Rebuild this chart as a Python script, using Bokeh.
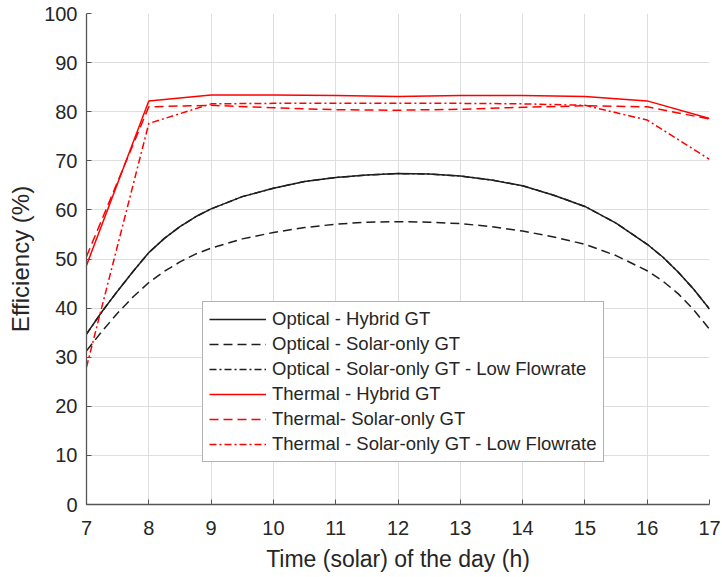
from bokeh.plotting import figure
from bokeh.models import Range1d, FixedTicker, Legend, LegendItem
from bokeh.embed import file_html
from bokeh.resources import INLINE

# ---- data ----
hours_fine = [7.0, 7.25, 7.5, 7.75, 8.0, 8.25, 8.5, 8.75, 9.0, 9.5, 10.0, 10.5, 11.0, 11.5, 12.0,
              12.5, 13.0, 13.5, 14.0, 14.5, 15.0, 15.5, 16.0, 16.25, 16.5, 16.75, 17.0]
optical_hybrid = [34.7, 39.3, 43.5, 47.5, 51.3, 54.2, 56.6, 58.6, 60.2, 62.7, 64.4, 65.8, 66.6, 67.1, 67.4,
                  67.3, 66.9, 66.1, 64.9, 63.0, 60.7, 57.3, 53.0, 50.4, 47.3, 43.8, 39.8]
optical_solar = [31.3, 35.3, 39.0, 42.3, 45.2, 47.5, 49.4, 51.0, 52.2, 54.1, 55.4, 56.4, 57.1, 57.5, 57.6,
                 57.5, 57.2, 56.6, 55.7, 54.5, 53.0, 50.7, 47.6, 45.5, 42.9, 39.6, 35.7]
optical_solar_low = [34.7, 39.3, 43.5, 47.5, 51.3, 54.2, 56.6, 58.6, 60.2, 62.7, 64.4, 65.8, 66.6, 67.1, 67.4,
                     67.3, 66.9, 66.1, 64.9, 63.0, 60.7, 57.3, 53.0, 50.4, 47.3, 43.8, 39.8]

hours = [7, 8, 9, 10, 11, 12, 13, 14, 15, 16, 17]
thermal_hybrid = [48.7, 82.2, 83.4, 83.4, 83.3, 83.1, 83.3, 83.3, 83.1, 82.2, 78.6]
thermal_solar = [50.5, 81.0, 81.3, 80.8, 80.4, 80.3, 80.5, 80.9, 81.2, 81.0, 78.5]
thermal_solar_low = [28.0, 77.6, 81.6, 81.7, 81.7, 81.7, 81.7, 81.6, 81.3, 78.3, 70.3]

x_ticks = [7, 8, 9, 10, 11, 12, 13, 14, 15, 16, 17]
y_ticks = [0, 10, 20, 30, 40, 50, 60, 70, 80, 90, 100]

FONT = "Liberation Sans"
TXT = "#262626"
BLACK = "#1e1e1e"
RED = "#ff0000"

p = figure(width=722, height=577, output_backend="svg", toolbar_location=None,
           x_range=Range1d(7, 17), y_range=Range1d(0, 100),
           min_border_left=86, min_border_right=13, min_border_top=13,
           min_border_bottom=73)
p.outline_line_color = None
p.background_fill_color = "white"
p.border_fill_color = "white"

for ax in (p.xaxis[0], p.yaxis[0]):
    ax.major_label_text_font = FONT
    ax.major_label_text_font_size = "20px"
    ax.major_label_text_color = TXT
    ax.axis_label_text_font = FONT
    ax.axis_label_text_font_size = "23px"
    ax.axis_label_text_font_style = "normal"
    ax.axis_label_text_color = TXT
    ax.axis_line_color = "#555555"
    ax.axis_line_width = 1.3
    ax.major_tick_line_color = "#555555"
    ax.major_tick_in = 5
    ax.major_tick_out = 0
    ax.minor_tick_line_color = None

p.xaxis.ticker = FixedTicker(ticks=x_ticks)
p.yaxis.ticker = FixedTicker(ticks=y_ticks)
p.xaxis.axis_label = "Time (solar) of the day (h)"
p.yaxis.axis_label = "Efficiency (%)"
p.yaxis.axis_label_text_font_size = "24px"
p.xaxis.major_label_standoff = 16
p.yaxis.major_label_standoff = 9
p.xaxis.axis_label_standoff = 8
p.yaxis.axis_label_standoff = 7

p.xgrid.ticker = FixedTicker(ticks=x_ticks)
p.ygrid.ticker = FixedTicker(ticks=y_ticks)
p.grid.grid_line_color = "#dedede"
p.grid.grid_line_width = 1

lw = 1.5
r1 = p.line(hours_fine, optical_solar_low, line_color=BLACK, line_width=lw, line_dash="7 3 2 3")
r0 = p.line(hours_fine, optical_hybrid, line_color=BLACK, line_width=lw)
r2 = p.line(hours_fine, optical_solar, line_color=BLACK, line_width=lw, line_dash="9 5")
r5 = p.line(hours, thermal_solar_low, line_color=RED, line_width=lw, line_dash="7 3 2 3")
r4 = p.line(hours, thermal_solar, line_color=RED, line_width=lw, line_dash="9 5")
r3 = p.line(hours, thermal_hybrid, line_color=RED, line_width=lw)

legend = Legend(items=[
    LegendItem(label="Optical - Hybrid GT", renderers=[r0]),
    LegendItem(label="Optical - Solar-only GT", renderers=[r2]),
    LegendItem(label="Optical - Solar-only GT - Low Flowrate", renderers=[r1]),
    LegendItem(label="Thermal - Hybrid GT", renderers=[r3]),
    LegendItem(label="Thermal- Solar-only GT", renderers=[r4]),
    LegendItem(label="Thermal - Solar-only GT - Low Flowrate", renderers=[r5]),
], location=(116, 42))
legend.label_text_font = FONT
legend.label_text_font_size = "18.5px"
legend.label_text_color = TXT
legend.glyph_width = 57
legend.glyph_height = 18
legend.label_height = 18
legend.spacing = 3
legend.padding = 6
legend.margin = 0
legend.label_standoff = 6
legend.border_line_color = "#666666"
legend.border_line_width = 1.3
legend.background_fill_color = "white"
legend.background_fill_alpha = 1.0
p.add_layout(legend, "center")

open("out.html", "w").write(file_html(p, INLINE))
